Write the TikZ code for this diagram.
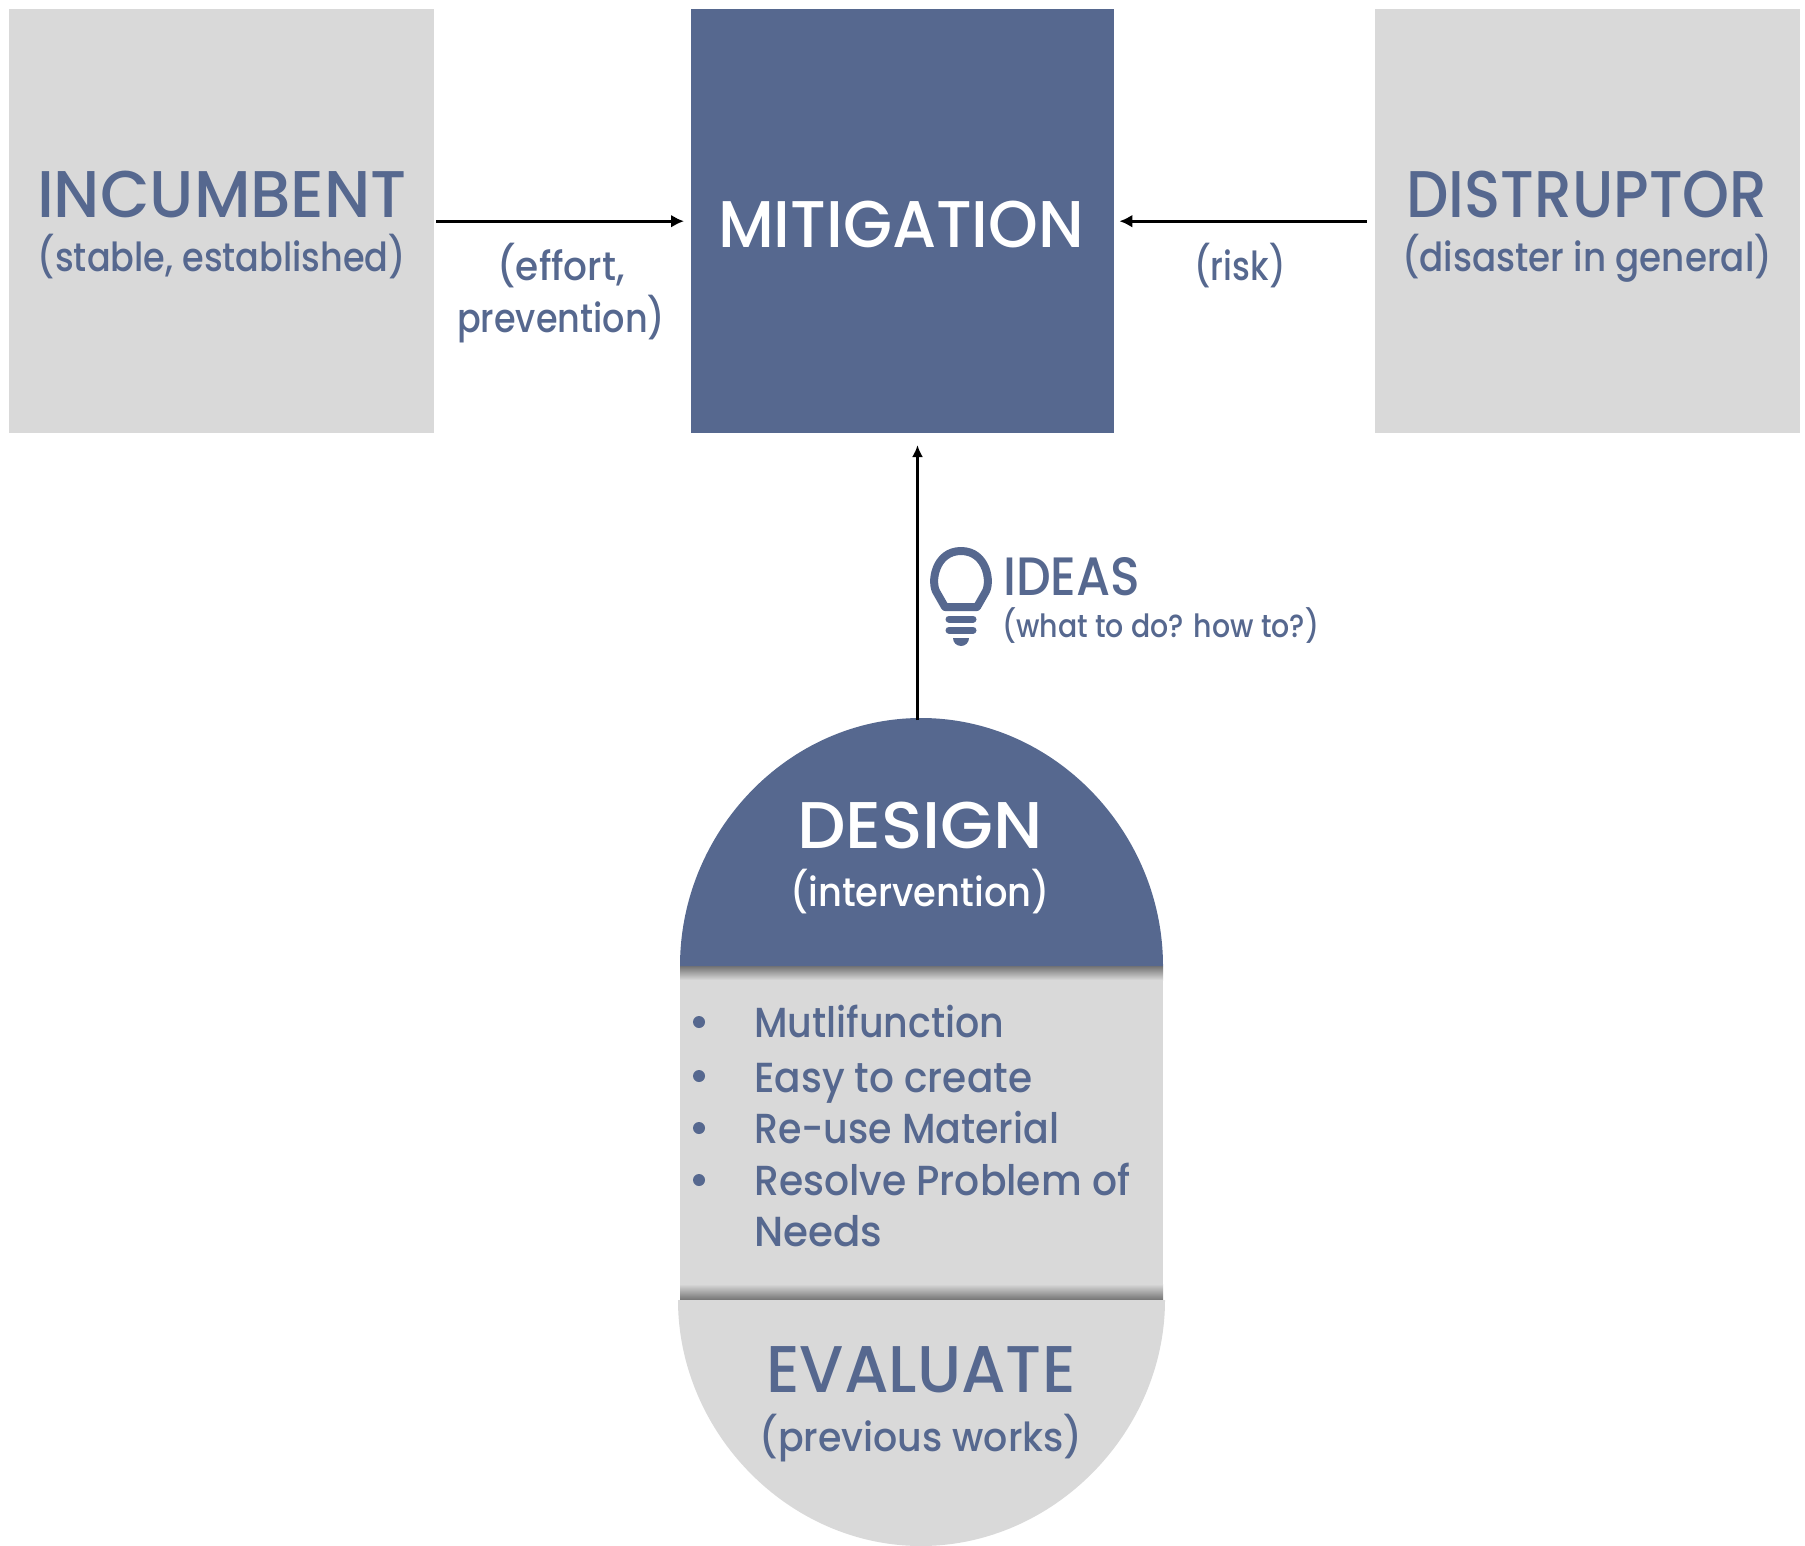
\documentclass[tikz,border=0pt]{standalone}
\usepackage{fontspec}
\usepackage{graphicx}
\setmainfont{Poppins Medium}
\usetikzlibrary{arrows.meta}
\definecolor{slateblue}{HTML}{56688F}
\definecolor{panelgray}{HTML}{D9D9D9}
\newcommand{\fitw}[3]{\resizebox{#1pt}{\height}{\fontsize{#2}{#2}\selectfont #3}}
\tikzset{
  square/.style={draw=none,inner sep=0pt,minimum width=#1,minimum height=424pt,anchor=north west},
  lbl/.style={inner sep=0pt,anchor=base,text=slateblue},
  lblw/.style={inner sep=0pt,anchor=base,text=white},
  lbll/.style={inner sep=0pt,anchor=base west,text=slateblue},
  conn/.style={-{Latex[length=13pt,width=13pt]},line width=3.2pt,black},
  connthin/.style={-{Latex[length=12pt,width=11pt]},line width=2.6pt,black},
}
\begin{document}
\begin{tikzpicture}[x=1pt,y=-1pt]
\useasboundingbox (0,0) rectangle (1805,1546);
% top squares
\node[square=425pt,fill=panelgray] (incumbent) at (9,9) {};
\node[square=423pt,fill=slateblue] (mitigation) at (691,9) {};
\node[square=425pt,fill=panelgray] (disruptor) at (1374.5,9) {};
\node[lbl] (t1) at (222,218) {\fitw{370}{66}{INCUMBENT}};
\node[lbl] (t2) at (222,272) {\fitw{368}{40}{(stable, established)}};
\node[lblw] (t3) at (901,248) {\fitw{366}{66}{MITIGATION}};
\node[lbl] (t4) at (1587,218) {\fitw{361}{66}{DISTRUPTOR}};
\node[lbl] (t5) at (1587,272) {\fitw{370}{40}{(disaster in general)}};
\node[lbl] (t6) at (561,281) {\fitw{127}{40}{(effort,}};
\node[lbl] (t7) at (561,333) {\fitw{208}{40}{prevention)}};
\node[lbl] (t8) at (1240,281) {\fitw{91}{40}{(risk)}};
% capsule
\fill[panelgray] (680,966) rectangle (1163,1298);
\fill[top color=black!55,bottom color=panelgray] (680,966) rectangle (1163,980);
\fill[top color=panelgray,bottom color=black!55] (680,1284) rectangle (1163,1300);
\fill[slateblue] (680,966) .. controls (680,832) and (788,718) .. (921,718) .. controls (1054,718) and (1163,832) .. (1163,966) -- cycle;
\fill[panelgray] (678,1300) .. controls (678,1432) and (788,1546) .. (921,1546) .. controls (1054,1546) and (1165,1432) .. (1165,1300) -- cycle;
\coordinate (designtop) at (917.5,720);
\coordinate (mitbottom) at (917.5,445);
\node[lblw] (t9) at (920,848) {\fitw{246}{66}{DESIGN}};
\node[lblw] (t10) at (920,906) {\fitw{259}{40}{(intervention)}};
\node[lbl] (t11) at (921,1392) {\fitw{309}{66}{EVALUATE}};
\node[lbl] (t12) at (921,1451) {\fitw{323}{40}{(previous works)}};
% list
\foreach \yy in {1022,1076,1128,1180}{\fill[slateblue] (699,\yy) circle (6pt);}
\node[lbll] (l1) at (754,1037) {\fitw{250}{42}{Mutlifunction}};
\node[lbll] (l2) at (754,1092) {\fitw{278}{42}{Easy to create}};
\node[lbll] (l3) at (754,1143) {\fitw{305}{42}{Re-use Material}};
\node[lbll] (l4) at (754,1195) {\fitw{376}{42}{Resolve Problem of}};
\node[lbll] (l5) at (754,1246) {\fitw{128}{42}{Needs}};
% ideas
\node[lbll] (t13) at (1003,595) {\fitw{137}{54}{IDEAS}};
\node[lbll] (t14) at (1002,637) {\fitw{317}{32}{(what to do? how to?)}};
% bulb
\draw[slateblue,line width=8pt,line join=round] (945,607) -- (937,593) .. controls (930,583) and (935,551) .. (961,551) .. controls (987,551) and (992,583) .. (985,593) -- (977,607) -- cycle;
\draw[slateblue,line width=7pt,line cap=round] (949,619) -- (973,619);
\draw[slateblue,line width=7pt,line cap=round] (949,630) -- (973,630);
\fill[slateblue] (953,638) -- (969,638) arc (0:180:8pt and -8pt) -- cycle;
% connectors
\draw[conn] ([xshift=2pt]incumbent.east) -- ([xshift=-7pt]mitigation.west);
\draw[conn] ([xshift=-8pt]disruptor.west) -- ([xshift=5pt]mitigation.east);
\draw[connthin] (designtop) -- (mitbottom);
\end{tikzpicture}
\end{document}
